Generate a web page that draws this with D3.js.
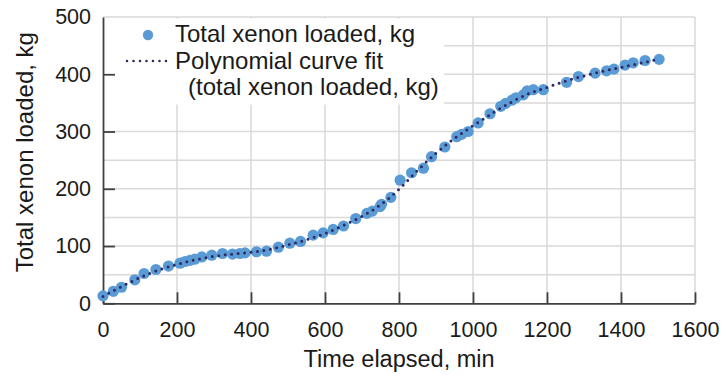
<!DOCTYPE html>
<html>
<head>
<meta charset="utf-8">
<script src="https://cdn.jsdelivr.net/npm/d3@7"></script>
<style>
  body { margin: 0; background: #fff; }
  text { font-family: "Liberation Sans", Arial, sans-serif; fill: #1a1a1a; }
</style>
</head>
<body>
<div id="chart"></div>
<script>
// measured points: time elapsed (min) and total xenon loaded (kg)
const timeMin = [0, 28, 50, 86, 111, 143, 177, 208, 222, 235, 248, 267, 294, 323, 350, 370, 384, 415, 442,
  474, 505, 534, 568, 595, 622, 650, 683, 713, 728, 749, 753, 778, 803, 834, 866, 888, 924, 956, 969, 987,
  1014, 1046, 1075, 1088, 1106, 1116, 1136, 1146, 1163, 1190, 1253, 1285, 1330, 1361, 1381, 1411, 1433, 1465, 1503];
const xenonKg = [13, 21, 28, 41, 52, 59, 65, 70, 73, 75, 77, 81, 84, 87, 86, 87, 88, 90, 91,
  98, 105, 108, 119, 123, 129, 135, 148, 157, 161, 169, 173, 185, 215, 228, 236, 256, 273, 291, 295, 300,
  315, 331, 344, 349, 355, 359, 364, 371, 373, 373, 386, 396, 402, 406, 409, 416, 420, 424, 426];

// polynomial fit
const fitTime = [0, 50, 100, 150, 200, 250, 300, 350, 400, 450, 500, 550, 600, 650, 700, 750, 800,
  850, 900, 950, 1000, 1050, 1100, 1150, 1200, 1250, 1300, 1350, 1400, 1450, 1500];
const fitKg = [12, 29, 45, 58, 68, 76, 82, 86, 89, 94, 102, 111, 122, 136, 152, 172, 199,
  232, 262, 288, 310, 331, 350, 366, 377, 388, 397, 405, 412, 419, 426];

const xTicks = [0, 200, 400, 600, 800, 1000, 1200, 1400, 1600];
const yTicks = [0, 100, 200, 300, 400, 500];
const yGrid = [50, 100, 150, 200, 250, 300, 350, 400, 450, 500];

const legendLabels = ["Total xenon loaded, kg", "Polynomial curve fit", "(total xenon loaded, kg)"];

const width = 727, height = 374;
const pointColor = "#5b9bd5";
const fitColor = "#2e2a66";
const gridColor = "#d9d9d9";
const axisColor = "#404040";

const x = d3.scaleLinear().domain([0, 1600]).range([103, 695]);
const y = d3.scaleLinear().domain([0, 500]).range([303.3, 17]);

const svg = d3.select("#chart").append("svg")
  .attr("width", width)
  .attr("height", height);

// gridlines
svg.append("g")
  .selectAll("line")
  .data(yGrid)
  .join("line")
    .attr("x1", x(0)).attr("x2", x(1600))
    .attr("y1", d => y(d)).attr("y2", d => y(d))
    .attr("stroke", gridColor).attr("stroke-width", 1.5);

svg.append("g")
  .selectAll("line")
  .data(xTicks.slice(1))
  .join("line")
    .attr("x1", d => x(d)).attr("x2", d => x(d))
    .attr("y1", y(0)).attr("y2", y(500))
    .attr("stroke", gridColor).attr("stroke-width", 1.5);

// legend background covers the grid
svg.append("rect")
  .attr("x", 104).attr("y", 18.5)
  .attr("width", 340).attr("height", 86)
  .attr("fill", "#fff");

// axes
const xAxis = svg.append("g")
  .attr("transform", `translate(0,${y(0)})`)
  .call(d3.axisBottom(x).tickValues(xTicks).tickFormat(d3.format("d"))
    .tickSize(-11).tickSizeOuter(0).tickPadding(18.5));

const yAxis = svg.append("g")
  .attr("transform", `translate(${x(0)},0)`)
  .call(d3.axisLeft(y).tickValues(yTicks).tickFormat(d3.format("d"))
    .tickSize(-12).tickSizeOuter(0).tickPadding(12));

[xAxis, yAxis].forEach(g => {
  g.select(".domain").attr("stroke", axisColor).attr("stroke-width", 1.8);
  g.selectAll(".tick line").attr("stroke", axisColor).attr("stroke-width", 1.8);
  g.selectAll(".tick text")
    .style("font-family", "'Liberation Sans', Arial, sans-serif")
    .attr("font-size", 21.5)
    .attr("fill", "#1a1a1a");
});
yAxis.select(".tick:last-of-type line").remove();

// points
svg.append("g")
  .selectAll("circle")
  .data(timeMin.map((t, i) => [t, xenonKg[i]]))
  .join("circle")
    .attr("cx", d => x(d[0]))
    .attr("cy", d => y(d[1]))
    .attr("r", 5.6)
    .attr("fill", pointColor);

// fit curve
const line = d3.line()
  .x(d => x(d[0]))
  .y(d => y(d[1]))
  .curve(d3.curveMonotoneX);

svg.append("path")
  .datum(fitTime.map((t, i) => [t, fitKg[i]]))
  .attr("d", line)
  .attr("fill", "none")
  .attr("stroke", fitColor)
  .attr("stroke-width", 3)
  .attr("stroke-linecap", "round")
  .attr("stroke-dasharray", "0 6.5");

// axis titles
svg.append("text")
  .attr("x", (x(0) + x(1600)) / 2)
  .attr("y", 367)
  .attr("text-anchor", "middle")
  .attr("font-size", 23.5)
  .text("Time elapsed, min");

svg.append("text")
  .attr("transform", `translate(25,${(y(0) + y(500)) / 2 - 8}) rotate(-90)`)
  .attr("dy", "0.35em")
  .attr("text-anchor", "middle")
  .attr("font-size", 24)
  .text("Total xenon loaded, kg");

// legend
const legend = svg.append("g");
legend.append("circle")
  .attr("cx", 148).attr("cy", 35).attr("r", 5.2)
  .attr("fill", pointColor);
legend.append("line")
  .attr("x1", 127).attr("x2", 167)
  .attr("y1", 61).attr("y2", 61)
  .attr("stroke", fitColor)
  .attr("stroke-width", 2.6)
  .attr("stroke-linecap", "round")
  .attr("stroke-dasharray", "0 6.5");
legend.selectAll("text")
  .data(legendLabels)
  .join("text")
    .attr("x", (d, i) => i === 2 ? 188 : 175)
    .attr("y", (d, i) => 42 + i * 26.7)
    .attr("font-size", 24)
    .text(d => d);
</script>
</body>
</html>
